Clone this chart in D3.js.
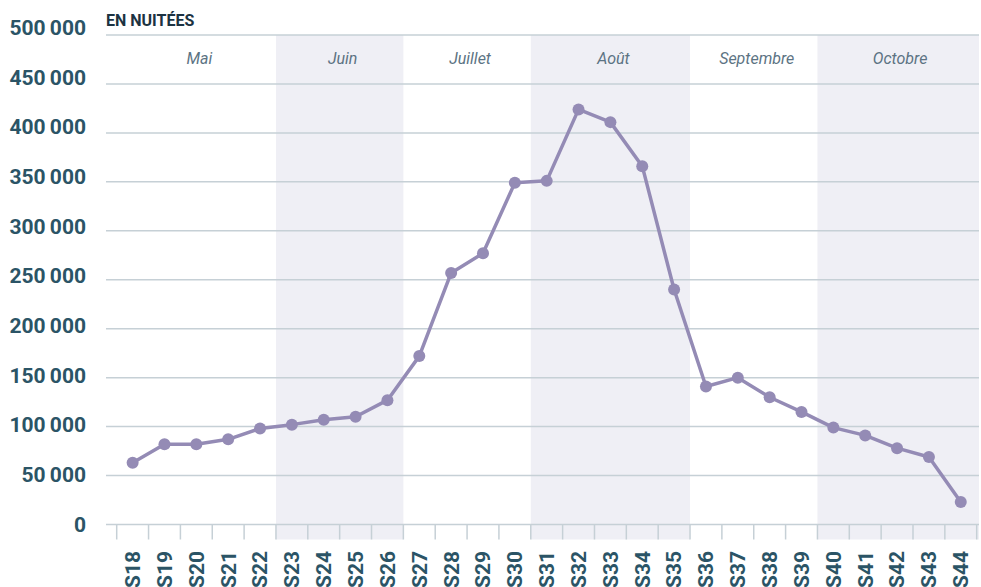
<!DOCTYPE html>
<html>
<head>
<meta charset="utf-8">
<script src="https://cdn.jsdelivr.net/npm/d3@7"></script>
<style>
  body { margin: 0; background: #fff; }
  svg { display: block; }
</style>
</head>
<body>
<div class="chartNuitees"></div>
<script>
// data
const weeks = ["S18","S19","S20","S21","S22","S23","S24","S25","S26","S27","S28","S29","S30","S31","S32","S33","S34","S35","S36","S37","S38","S39","S40","S41","S42","S43","S44"];
const nuitees = [63000,82000,82000,87000,98000,102000,107000,110000,127000,172000,257000,277000,349000,351000,424000,411000,366000,240000,141000,150000,130000,115000,99000,91000,78000,69000,23000];
const months = ["Mai","Juin","Juillet","Août","Septembre","Octobre"];
const monthFirstWeek = ["S18","S23","S27","S31","S36","S40"];
const monthLastWeek = ["S22","S26","S30","S35","S39","S44"];
const yTicks = [0,50000,100000,150000,200000,250000,300000,350000,400000,450000,500000];

function chartNuitees() {
  const width = 981;
  const height = 587;
  const plotLeft = 106;
  const plotRight = 979;
  const top = 35;
  const bottom = 524.5;

  const svg = d3.select(".chartNuitees").append("svg")
    .attr("width", width)
    .attr("height", height)
    .style("font-family", "Roboto");

  const x = d3.scaleBand()
    .domain(weeks)
    .range([116.7, 976.7])
    .padding(0);

  const y = d3.scaleLinear()
    .domain([0, 500000])
    .range([bottom, top]);

  // labels sit a bit off the grid in the original
  const yLabel = d3.scaleLinear()
    .domain([0, 500000])
    .range([bottom, 27.5]);

  // month bands
  const monthGroup = svg.append("g");
  months.forEach(function(m, i) {
    const x0 = i === 0 ? plotLeft : x(monthFirstWeek[i]);
    const x1 = i === months.length - 1 ? plotRight : x(monthLastWeek[i]) + x.bandwidth();
    if (i % 2 === 1) {
      monthGroup.append("rect")
        .attr("x", x0)
        .attr("y", top)
        .attr("width", x1 - x0)
        .attr("height", bottom + 15 - top)
        .attr("fill", "#efeff5");
    }
    const cx = (x(monthFirstWeek[i]) + x(monthLastWeek[i]) + x.bandwidth()) / 2;
    monthGroup.append("text")
      .attr("x", cx + 3)
      .attr("y", 64)
      .attr("text-anchor", "middle")
      .style("font-style", "italic")
      .style("font-size", "16px")
      .attr("fill", "#5c7383")
      .text(m);
  });

  // grid
  svg.append("g").selectAll("line")
    .data(yTicks)
    .enter()
    .append("line")
    .attr("x1", plotLeft)
    .attr("x2", plotRight)
    .attr("y1", function(d) { return y(d); })
    .attr("y2", function(d) { return y(d); })
    .attr("stroke", "#c6d0d6")
    .attr("stroke-width", 1.5);

  // y labels
  const fmt = d3.formatLocale({ decimal: ",", thousands: "\u2009", grouping: [3], currency: ["", "€"] }).format(",");
  svg.append("g").selectAll("text")
    .data(yTicks)
    .enter()
    .append("text")
    .attr("x", 86)
    .attr("y", function(d) { return yLabel(d); })
    .attr("dy", "0.35em")
    .attr("text-anchor", "end")
    .style("font-size", "21px")
    .style("font-weight", "700")
    .attr("fill", "#2b5466")
    .text(fmt);

  // x axis ticks
  const tickPos = weeks.map(function(w) { return x(w); }).concat([x(weeks[weeks.length - 1]) + x.bandwidth()]);
  svg.append("g").selectAll("line")
    .data(tickPos)
    .enter()
    .append("line")
    .attr("x1", function(d) { return d; })
    .attr("x2", function(d) { return d; })
    .attr("y1", bottom)
    .attr("y2", bottom + 15)
    .attr("stroke", "#c6d0d6")
    .attr("stroke-width", 1.5);

  // x labels
  svg.append("g").selectAll("text")
    .data(weeks)
    .enter()
    .append("text")
    .attr("transform", function(d) {
      return "translate(" + (x(d) + x.bandwidth() / 2) + "," + 551 + ") rotate(-90)";
    })
    .attr("dy", "0.35em")
    .attr("text-anchor", "end")
    .style("font-size", "21px")
    .style("font-weight", "700")
    .attr("fill", "#2b5466")
    .text(function(d) { return d; });

  // title
  svg.append("text")
    .attr("x", 106)
    .attr("y", 26)
    .style("font-size", "16px")
    .style("font-weight", "700")
    .attr("fill", "#1c3342")
    .text("EN NUITÉES");

  // line
  const line = d3.line()
    .x(function(d, i) { return x(weeks[i]) + x.bandwidth() / 2; })
    .y(function(d) { return y(d); });

  svg.append("path")
    .datum(nuitees)
    .attr("d", line)
    .attr("fill", "none")
    .attr("stroke", "#948bb5")
    .attr("stroke-width", 3.5)
    .attr("stroke-linejoin", "round");

  svg.append("g").selectAll("circle")
    .data(nuitees)
    .enter()
    .append("circle")
    .attr("cx", function(d, i) { return x(weeks[i]) + x.bandwidth() / 2; })
    .attr("cy", function(d) { return y(d); })
    .attr("r", 6)
    .attr("fill", "#948bb5");
}

chartNuitees();
</script>
</body>
</html>
